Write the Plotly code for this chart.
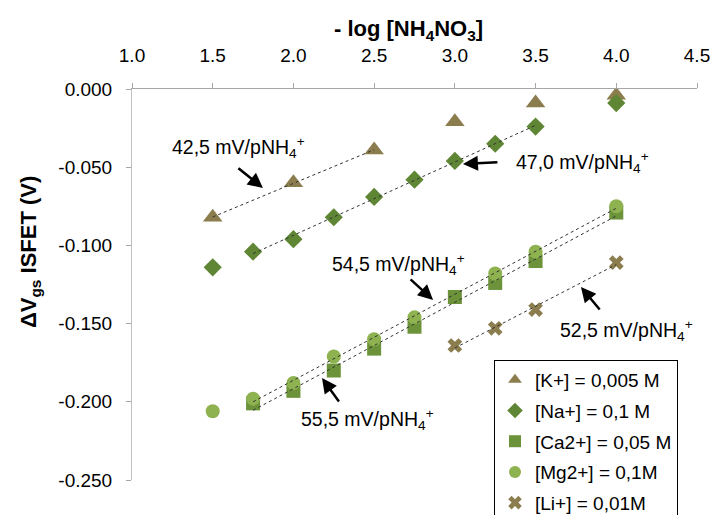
import numpy as np
import plotly.graph_objects as go

# ---- data ----
k_x = [1.5, 2.0, 2.5, 3.0, 3.5, 4.0]
k_y = [-0.082, -0.060, -0.039, -0.021, -0.009, -0.004]

na_x = [1.5, 1.75, 2.0, 2.25, 2.5, 2.75, 3.0, 3.25, 3.5, 4.0]
na_y = [-0.114, -0.104, -0.096, -0.082, -0.069, -0.058, -0.046, -0.035, -0.024, -0.009]

ca_x = [1.75, 2.0, 2.25, 2.5, 2.75, 3.0, 3.25, 3.5, 4.0]
ca_y = [-0.201, -0.193, -0.180, -0.166, -0.152, -0.133, -0.124, -0.110, -0.079]

mg_x = [1.5, 1.75, 2.0, 2.25, 2.5, 2.75, 3.25, 3.5, 4.0]
mg_y = [-0.206, -0.198, -0.188, -0.171, -0.160, -0.146, -0.118, -0.104, -0.075]

li_x = [3.0, 3.25, 3.5, 4.0]
li_y = [-0.164, -0.153, -0.141, -0.111]

names = ["[K+] = 0,005 M", "[Na+] = 0,1 M", "[Ca2+] = 0,05 M", "[Mg2+] = 0,1M", "[Li+] = 0,01M"]
x_ticks = [1.0, 1.5, 2.0, 2.5, 3.0, 3.5, 4.0, 4.5]
y_ticks = [0.0, -0.05, -0.10, -0.15, -0.20, -0.25]

# trendline fit ranges (x min, x max)
k_fit = (1.5, 2.5)
na_fit = (1.75, 3.5)
ca_fit = (1.75, 4.0)
mg_fit = (1.75, 4.0)
li_fit = (3.0, 4.0)

slope_labels = ["42,5", "47,0", "54,5", "55,5", "52,5"]

# ---- styles ----
c_k = "#8B7D4E"
c_na = "#5E8634"
c_ca = "#6C933A"
c_mg = "#8DB24F"
c_li = "#8B7D4E"
FONT = "Liberation Sans, Arial, sans-serif"

fig = go.Figure()

def trend(xs, ys, rng):
    xs = np.array(xs); ys = np.array(ys)
    m = (xs >= rng[0]) & (xs <= rng[1])
    a, b = np.polyfit(xs[m], ys[m], 1)
    xx = np.array([rng[0], rng[1]])
    fig.add_trace(go.Scatter(x=xx, y=a * xx + b, mode="lines", showlegend=False,
                             line=dict(color="#333333", width=1, dash="dot"),
                             hoverinfo="skip"))

series = [
    (k_x, k_y, names[0], "triangle-up", 17, c_k, k_fit),
    (na_x, na_y, names[1], "diamond", 14, c_na, na_fit),
    (ca_x, ca_y, names[2], "square", 14, c_ca, ca_fit),
    (mg_x, mg_y, names[3], "circle", 14, c_mg, mg_fit),
    (li_x, li_y, names[4], "x", 13, c_li, li_fit),
]
for i, (xs, ys, nm, sym, sz, col, rng) in enumerate(series):
    fig.add_trace(go.Scatter(x=xs, y=ys, mode="markers", name=nm, legendgroup=f"g{i}",
                             marker=dict(symbol=sym, size=sz, color=col, line=dict(width=0))))
for xs, ys, nm, sym, sz, col, rng in series:
    trend(xs, ys, rng)

# slope annotations: (text x, text y, arrow head x, head y, ax, ay)
ann_pos = [
    (1.657, -0.0377, 1.811, -0.0633, -26, -21),
    (3.788, -0.0467, 3.050, -0.0480, 36, -2),
    (2.648, -0.1125, 2.865, -0.1349, -24, -22),
    (2.456, -0.2116, 2.177, -0.1848, 18, 25),
    (4.066, -0.1541, 3.781, -0.1266, 20, 24),
]
for lbl, (tx, ty, hx, hy, ax, ay) in zip(slope_labels, ann_pos):
    fig.add_annotation(x=tx, y=ty, xref="x", yref="y", showarrow=False,
                       xanchor="center", yanchor="middle",
                       text=f"{lbl} mV/pNH<sub>4</sub><sup>+</sup>",
                       font=dict(family=FONT, size=19.5, color="#000"))
    fig.add_annotation(x=hx, y=hy, xref="x", yref="y", text="", showarrow=True,
                       ax=ax, ay=ay, arrowhead=2, arrowsize=1.2, arrowwidth=2.5,
                       arrowcolor="#000")

# axis titles
fig.add_annotation(x=0.4885, y=1.151, xref="paper", yref="paper", showarrow=False,
                   xanchor="center", yanchor="middle",
                   text="<b>- log [NH<sub>4</sub>NO<sub>3</sub>]</b>",
                   font=dict(family=FONT, size=22, color="#000"))
fig.add_annotation(x=-0.1805, y=0.583, xref="paper", yref="paper", showarrow=False,
                   xanchor="center", yanchor="middle",
                   textangle=-90, text="<b>ΔV<sub>gs</sub> ISFET (V)</b>",
                   font=dict(family=FONT, size=22, color="#000"))

fig.update_layout(
    width=712, height=515, autosize=False,
    margin=dict(l=132, r=15, t=89, b=35, autoexpand=False),
    paper_bgcolor="white", plot_bgcolor="white",
    font=dict(family=FONT, size=19, color="#000"),
    showlegend=True,
    legend=dict(x=0.6407, y=0.307, xanchor="left", yanchor="top",
                bgcolor="white", bordercolor="#000", borderwidth=1,
                font=dict(family=FONT, size=19, color="#000"),
                itemsizing="constant", itemwidth=30, tracegroupgap=3),
    xaxis=dict(range=[1.0, 4.5], side="top", tickvals=x_ticks,
               ticktext=[f"{v:.1f}" for v in x_ticks],
               showgrid=False, zeroline=False, showline=True, linecolor="#A6A6A6",
               linewidth=1, ticks="outside", ticklen=5, tickcolor="#A6A6A6",
               ticklabelstandoff=13, tickfont=dict(size=19)),
    yaxis=dict(range=[-0.25, 0.0], tickvals=y_ticks,
               ticktext=[f"{v:.3f}" for v in y_ticks],
               showgrid=False, zeroline=False, showline=True, linecolor="#C0C0C0",
               linewidth=1, ticks="outside", ticklen=5, tickcolor="#A6A6A6",
               ticklabelstandoff=10, tickfont=dict(size=19)),
)

fig.write_html("out.html", config={"displayModeBar": False},
               post_script="document.body.style.margin='0';document.body.style.overflow='hidden';")
